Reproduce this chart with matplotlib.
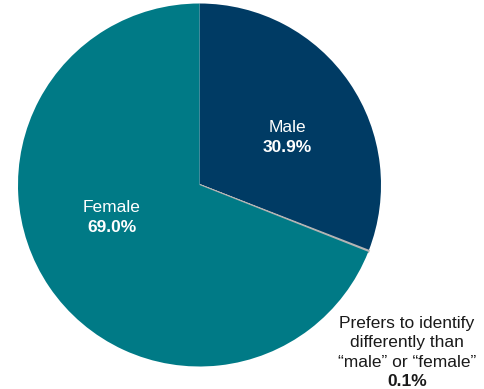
import matplotlib
matplotlib.use("Agg")
import matplotlib.pyplot as plt

categories = ["Male", "Prefers to identify\ndifferently than\n\u201cmale\u201d or \u201cfemale\u201d", "Female"]
values = [30.9, 0.1, 69.0]
colors = ["#003B64", "#B4B4B4", "#007A86"]

plt.rcParams['font.family'] = ['Liberation Sans', 'DejaVu Sans']

W, H = 484, 389
fig = plt.figure(figsize=(W/100, H/100), dpi=100)
cx, cy, r = 199.5, 185, 181.5
ax = fig.add_axes([(cx - r)/W, (H - cy - r)/H, 2*r/W, 2*r/H])
wedges, _ = ax.pie(values, colors=colors, startangle=90, counterclock=False,
                   radius=1, wedgeprops=dict(linewidth=0))
wedges[1].set_edgecolor(colors[1])
wedges[1].set_linewidth(1.5)
ax.set_xlim(-1, 1)
ax.set_ylim(-1, 1)
ax.set_aspect('equal')
ax.axis('off')

def px(x, y):
    return x / W, 1 - y / H

fs = 12.5
# Male
fig.text(*px(287, 128), categories[0], color='white', ha='center', va='center', fontsize=fs)
fig.text(*px(287, 147), f"{values[0]:.1f}%", color='white', ha='center', va='center', fontsize=fs, fontweight='bold')
# Female
fig.text(*px(112, 208), categories[2], color='white', ha='center', va='center', fontsize=fs)
fig.text(*px(112, 227), f"{values[2]:.1f}%", color='white', ha='center', va='center', fontsize=fs, fontweight='bold')
# Other
fig.text(*px(407, 343), categories[1], color='#1a1a1a', ha='center', va='center', fontsize=fs, linespacing=1.38)
fig.text(*px(407, 382), f"{values[1]:.1f}%", color='#1a1a1a', ha='center', va='center', fontsize=fs, fontweight='bold')

fig.savefig("out.png", dpi=100)
